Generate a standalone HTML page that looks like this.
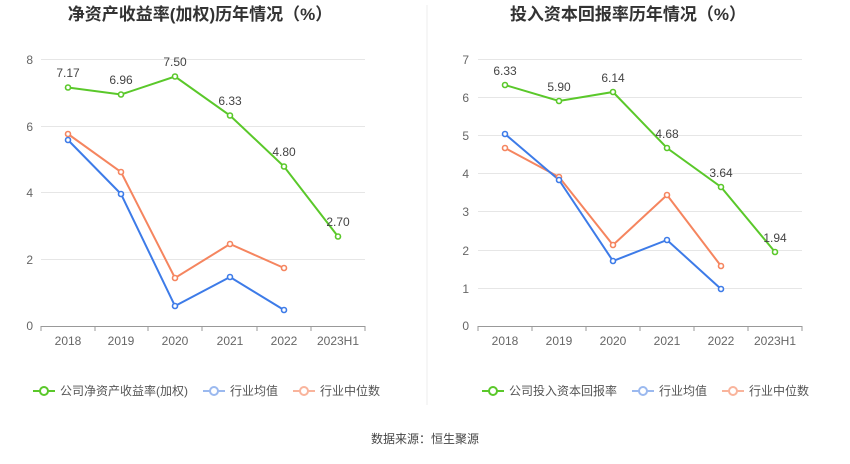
<!DOCTYPE html>
<html><head><meta charset="utf-8"><style>
body{margin:0;background:#fff}
svg text{font-family:"Liberation Sans","Noto Sans CJK SC",sans-serif}
</style></head><body>
<svg width="850" height="459" viewBox="0 0 850 459" xmlns="http://www.w3.org/2000/svg">
<rect width="850" height="459" fill="#fff"/>
<line x1="427" y1="5" x2="427" y2="405" stroke="#eee"/>
<!-- Titles -->
<text x="200" y="20" font-size="17" font-weight="bold" fill="#333" text-anchor="middle">净资产收益率(加权)历年情况（%）</text>
<text x="628" y="20" font-size="17" font-weight="bold" fill="#333" text-anchor="middle">投入资本回报率历年情况（%）</text>
<!-- Left grid -->
<g stroke="#e6e6e6" stroke-width="1">
<line x1="41" y1="59.5" x2="365" y2="59.5"/>
<line x1="41" y1="126.5" x2="365" y2="126.5"/>
<line x1="41" y1="192.5" x2="365" y2="192.5"/>
<line x1="41" y1="259.5" x2="365" y2="259.5"/>
</g>
<line x1="41" y1="326.5" x2="365" y2="326.5" stroke="#999"/>
<g font-size="12" fill="#666" text-anchor="end">
<text x="33" y="64">8</text><text x="33" y="131">6</text><text x="33" y="197">4</text><text x="33" y="264">2</text><text x="33" y="330">0</text>
</g>
<g stroke="#999"><line x1="41" y1="326" x2="41" y2="331"/><line x1="95" y1="326" x2="95" y2="331"/><line x1="148" y1="326" x2="148" y2="331"/><line x1="202" y1="326" x2="202" y2="331"/><line x1="257" y1="326" x2="257" y2="331"/><line x1="311" y1="326" x2="311" y2="331"/><line x1="365" y1="326" x2="365" y2="331"/></g>
<g font-size="12" fill="#666" text-anchor="middle">
<text x="68" y="345">2018</text><text x="121" y="345">2019</text><text x="175" y="345">2020</text><text x="230" y="345">2021</text><text x="284" y="345">2022</text><text x="338" y="345">2023H1</text>
</g>
<g fill="#fff" stroke-width="1.6">
<polyline points="68,134 121,172 175,278 230,244 284,268" fill="none" stroke="#f5855f" stroke-width="2"/>
<polyline points="68,140 121,194 175,306 230,277 284,310" fill="none" stroke="#3d7be8" stroke-width="2"/>
<polyline points="68,87.5 121,94.5 175,76.5 230,115.5 284,166.5 338,236.5" fill="none" stroke="#5ac82a" stroke-width="2"/>
<g stroke="#f5855f"><circle cx="68" cy="134" r="2.5"/><circle cx="121" cy="172" r="2.5"/><circle cx="175" cy="278" r="2.5"/><circle cx="230" cy="244" r="2.5"/><circle cx="284" cy="268" r="2.5"/></g>
<g stroke="#3d7be8"><circle cx="68" cy="140" r="2.5"/><circle cx="121" cy="194" r="2.5"/><circle cx="175" cy="306" r="2.5"/><circle cx="230" cy="277" r="2.5"/><circle cx="284" cy="310" r="2.5"/></g>
<g stroke="#5ac82a"><circle cx="68" cy="87.5" r="2.5"/><circle cx="121" cy="94.5" r="2.5"/><circle cx="175" cy="76.5" r="2.5"/><circle cx="230" cy="115.5" r="2.5"/><circle cx="284" cy="166.5" r="2.5"/><circle cx="338" cy="236.5" r="2.5"/></g>
</g>
<g font-size="12" fill="#444" text-anchor="middle">
<text x="68" y="77">7.17</text><text x="121" y="84">6.96</text><text x="175" y="66">7.50</text><text x="230" y="105">6.33</text><text x="284" y="156">4.80</text><text x="338" y="226">2.70</text>
</g>
<!-- Right grid -->
<g stroke="#e6e6e6">
<line x1="478" y1="59.5" x2="802" y2="59.5"/><line x1="478" y1="97.5" x2="802" y2="97.5"/><line x1="478" y1="135.5" x2="802" y2="135.5"/><line x1="478" y1="173.5" x2="802" y2="173.5"/><line x1="478" y1="211.5" x2="802" y2="211.5"/><line x1="478" y1="250.5" x2="802" y2="250.5"/><line x1="478" y1="288.5" x2="802" y2="288.5"/>
</g>
<line x1="478" y1="326.5" x2="802" y2="326.5" stroke="#999"/>
<g font-size="12" fill="#666" text-anchor="end">
<text x="469" y="64">7</text><text x="469" y="102">6</text><text x="469" y="140">5</text><text x="469" y="178">4</text><text x="469" y="216">3</text><text x="469" y="255">2</text><text x="469" y="293">1</text><text x="469" y="330">0</text>
</g>
<g stroke="#999"><line x1="478" y1="326" x2="478" y2="331"/><line x1="532" y1="326" x2="532" y2="331"/><line x1="586" y1="326" x2="586" y2="331"/><line x1="640" y1="326" x2="640" y2="331"/><line x1="694" y1="326" x2="694" y2="331"/><line x1="748" y1="326" x2="748" y2="331"/><line x1="802" y1="326" x2="802" y2="331"/></g>
<g font-size="12" fill="#666" text-anchor="middle">
<text x="505" y="345">2018</text><text x="559" y="345">2019</text><text x="613" y="345">2020</text><text x="667" y="345">2021</text><text x="721" y="345">2022</text><text x="775" y="345">2023H1</text>
</g>
<g fill="#fff" stroke-width="1.6">
<polyline points="505,148 559,177 613,245 667,195 721,266" fill="none" stroke="#f5855f" stroke-width="2"/>
<polyline points="505,134 559,180 613,261 667,240 721,289" fill="none" stroke="#3d7be8" stroke-width="2"/>
<polyline points="505,85 559,101 613,92 667,148 721,187 775,252" fill="none" stroke="#5ac82a" stroke-width="2"/>
<g stroke="#f5855f"><circle cx="505" cy="148" r="2.5"/><circle cx="559" cy="177" r="2.5"/><circle cx="613" cy="245" r="2.5"/><circle cx="667" cy="195" r="2.5"/><circle cx="721" cy="266" r="2.5"/></g>
<g stroke="#3d7be8"><circle cx="505" cy="134" r="2.5"/><circle cx="559" cy="180" r="2.5"/><circle cx="613" cy="261" r="2.5"/><circle cx="667" cy="240" r="2.5"/><circle cx="721" cy="289" r="2.5"/></g>
<g stroke="#5ac82a"><circle cx="505" cy="85" r="2.5"/><circle cx="559" cy="101" r="2.5"/><circle cx="613" cy="92" r="2.5"/><circle cx="667" cy="148" r="2.5"/><circle cx="721" cy="187" r="2.5"/><circle cx="775" cy="252" r="2.5"/></g>
</g>
<g font-size="12" fill="#444" text-anchor="middle">
<text x="505" y="75">6.33</text><text x="559" y="91">5.90</text><text x="613" y="82">6.14</text><text x="667" y="138">4.68</text><text x="721" y="177">3.64</text><text x="775" y="242">1.94</text>
</g>
<!-- Legends -->
<g font-size="12" fill="#555">
<line x1="33" y1="391" x2="55" y2="391" stroke="#5ac82a" stroke-width="2"/><circle cx="44" cy="391" r="4" fill="#fff" stroke="#5ac82a" stroke-width="2"/>
<text x="60" y="395">公司净资产收益率(加权)</text>
<line x1="203" y1="391" x2="225" y2="391" stroke="#9bb9ef" stroke-width="2"/><circle cx="214" cy="391" r="4" fill="#fff" stroke="#9bb9ef" stroke-width="2"/>
<text x="230" y="395">行业均值</text>
<line x1="293" y1="391" x2="315" y2="391" stroke="#f9b49c" stroke-width="2"/><circle cx="304" cy="391" r="4" fill="#fff" stroke="#f9b49c" stroke-width="2"/>
<text x="320" y="395">行业中位数</text>
<line x1="482" y1="391" x2="504" y2="391" stroke="#5ac82a" stroke-width="2"/><circle cx="493" cy="391" r="4" fill="#fff" stroke="#5ac82a" stroke-width="2"/>
<text x="509" y="395">公司投入资本回报率</text>
<line x1="632" y1="391" x2="654" y2="391" stroke="#9bb9ef" stroke-width="2"/><circle cx="643" cy="391" r="4" fill="#fff" stroke="#9bb9ef" stroke-width="2"/>
<text x="659" y="395">行业均值</text>
<line x1="722" y1="391" x2="744" y2="391" stroke="#f9b49c" stroke-width="2"/><circle cx="733" cy="391" r="4" fill="#fff" stroke="#f9b49c" stroke-width="2"/>
<text x="749" y="395">行业中位数</text>
</g>
<text x="425" y="443" font-size="12" fill="#444" text-anchor="middle">数据来源：恒生聚源</text>
</svg>
</body></html>
